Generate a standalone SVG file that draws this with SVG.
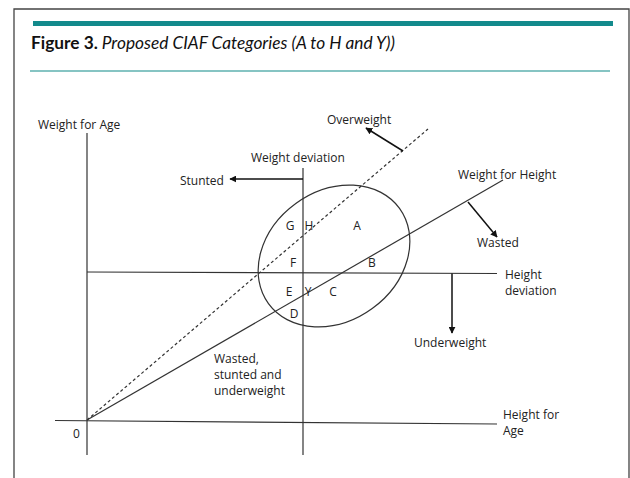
<svg xmlns="http://www.w3.org/2000/svg" width="630" height="478" viewBox="0 0 630 478">
<defs>
<marker id="ah" viewBox="0 0 10 10" refX="9" refY="5" markerWidth="7" markerHeight="7" markerUnits="userSpaceOnUse" orient="auto">
<path d="M0,0 L10,5 L0,10 z" fill="#111"/>
</marker>
<style>
.ln{stroke:#333;stroke-width:1.2;fill:none}
.ar{stroke:#111;stroke-width:1.5;fill:none;marker-end:url(#ah)}
.t{font-family:"Open Sans","Noto Sans",sans-serif;font-size:12px;fill:#222}
.c{text-anchor:middle}
</style>
</defs>
<rect width="630" height="478" fill="#fff"/>
<g id="frame">
<path d="M14,478 V9 H629 V478" fill="none" stroke="#444" stroke-width="1.3"/>
<rect x="33" y="21" width="580" height="5" fill="#138a8c"/>
<rect x="30" y="70" width="580" height="2" fill="#86c4c3"/>
<text x="31" y="49" font-family="Lato,'Liberation Sans',sans-serif" font-size="17.3px" fill="#111"><tspan font-weight="bold">Figure 3.</tspan><tspan font-style="italic" dx="4">Proposed CIAF Categories (A to H and Y))</tspan></text>
</g>
<g id="axes">
<line class="ln" x1="87" y1="133" x2="87" y2="455"/>
<line class="ln" x1="55" y1="420.5" x2="497" y2="424"/>
<line class="ln" x1="303" y1="168" x2="303" y2="455"/>
<line class="ln" x1="87" y1="272" x2="497" y2="273.5"/>
<line class="ln" x1="87" y1="420" x2="503" y2="180"/>
<line class="ln" x1="87" y1="420" x2="428" y2="129" stroke-dasharray="3,2.5"/>
<ellipse class="ln" cx="334" cy="256" rx="81" ry="65" transform="rotate(-36 334 256)"/>
</g>
<g id="connectors">
<line class="ar" x1="303" y1="179" x2="230" y2="179"/>
<line class="ar" x1="452" y1="273.5" x2="452" y2="333"/>
<line class="ar" x1="468" y1="202" x2="497" y2="237"/>
<line class="ar" x1="403" y1="151" x2="366" y2="128"/>
</g>
<g id="labels">
<text class="t" x="38" y="128.5">Weight for Age</text>
<text class="t" x="251" y="161.5">Weight deviation</text>
<text class="t" x="180" y="184.5">Stunted</text>
<text class="t" x="327" y="123.5">Overweight</text>
<text class="t" x="458" y="178.5">Weight for Height</text>
<text class="t" x="477" y="246.5">Wasted</text>
<text class="t" x="505" y="278.5">Height</text>
<text class="t" x="505" y="294.5">deviation</text>
<text class="t" x="414" y="346.5">Underweight</text>
<text class="t" x="214" y="362.5">Wasted,</text>
<text class="t" x="214" y="378.5">stunted and</text>
<text class="t" x="214" y="394.5">underweight</text>
<text class="t" x="503" y="418.5">Height for</text>
<text class="t" x="503" y="434.5">Age</text>
<text class="t" x="73" y="437.5">0</text>
</g>
<g id="regions">
<text class="t c" x="290" y="229.5">G</text>
<text class="t c" x="309" y="229.5">H</text>
<text class="t c" x="357" y="229.5">A</text>
<text class="t c" x="293" y="266.5">F</text>
<text class="t c" x="372" y="266.5">B</text>
<text class="t c" x="289" y="295.5">E</text>
<text class="t c" x="308" y="295.5">Y</text>
<text class="t c" x="333" y="295.5">C</text>
<text class="t c" x="294" y="317.5">D</text>
</g>
</svg>
